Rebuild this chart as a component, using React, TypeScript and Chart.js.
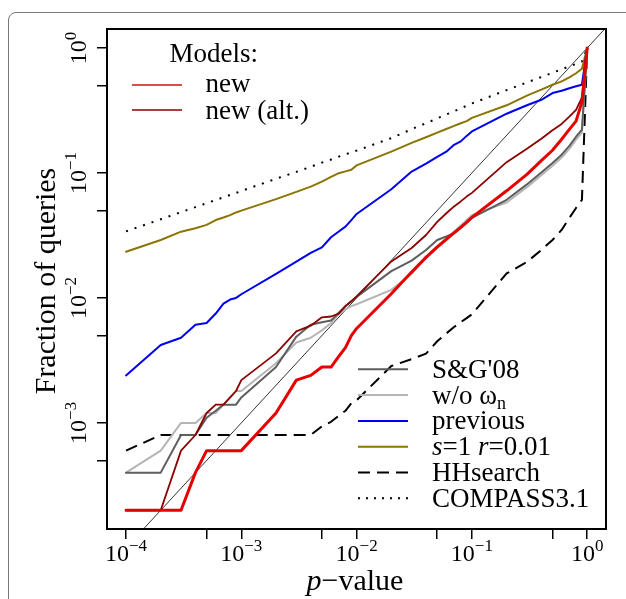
import { useRef, useEffect } from 'react'
import { Chart, registerables } from 'chart.js'
Chart.register(...registerables)

const SERIF = '"Liberation Serif", "Times New Roman", serif'

// p-value grid (1..9 x 10^k)
const P_VALUES = [
  1e-4, 2e-4, 3e-4, 4e-4, 5e-4, 6e-4, 7e-4, 8e-4, 9e-4,
  1e-3, 2e-3, 3e-3, 4e-3, 5e-3, 6e-3, 7e-3, 8e-3, 9e-3,
  1e-2, 2e-2, 3e-2, 4e-2, 5e-2, 6e-2, 7e-2, 8e-2, 9e-2,
  0.1, 0.2, 0.3, 0.4, 0.5, 0.6, 0.7, 0.8, 0.9, 1,
]

const NEW = [
  2e-4, 2e-4, 2e-4, 4e-4, 6e-4, 6e-4, 6e-4, 6e-4, 6e-4,
  6e-4, 1.2e-3, 2.2e-3, 2.4e-3, 2.8e-3, 2.8e-3, 3.4e-3, 4.0e-3, 5.0e-3,
  5.7e-3, 0.0108, 0.0161, 0.0211, 0.0255, 0.0294, 0.0331, 0.0367, 0.0403,
  0.0441, 0.072, 0.0975, 0.1255, 0.152, 0.186, 0.223, 0.26, 0.37, 1,
]
const NEW_ALT = [
  2e-4, 2e-4, 6e-4, 8e-4, 1.2e-3, 1.4e-3, 1.4e-3, 1.6e-3, 1.8e-3,
  2.2e-3, 3.6e-3, 5.4e-3, 6.0e-3, 7.0e-3, 7.1e-3, 7.5e-3, 8.6e-3, 9.4e-3,
  0.0103, 0.0196, 0.0251, 0.0319, 0.0406, 0.0476, 0.054, 0.0592, 0.0647,
  0.0693, 0.122, 0.156, 0.188, 0.22, 0.247, 0.282, 0.32, 0.40, 1,
]
const SG08 = [
  4e-4, 4e-4, 8e-4, 8e-4, 1.1e-3, 1.25e-3, 1.4e-3, 1.4e-3, 1.4e-3,
  1.6e-3, 2.8e-3, 4.9e-3, 6.1e-3, 6.4e-3, 6.6e-3, 7.6e-3, 8.6e-3, 9.4e-3,
  0.0102, 0.0164, 0.0199, 0.0242, 0.0291, 0.031, 0.033, 0.0363, 0.0402,
  0.0437, 0.061, 0.081, 0.101, 0.12, 0.14, 0.165, 0.195, 0.222, 1,
]
const NO_OMEGA = [
  4e-4, 6e-4, 1.0e-3, 1.0e-3, 1.2e-3, 1.2e-3, 1.4e-3, 1.6e-3, 1.8e-3,
  1.8e-3, 3.0e-3, 4.4e-3, 4.8e-3, 5.5e-3, 6.3e-3, 7.4e-3, 8.1e-3, 8.6e-3,
  8.9e-3, 0.0116, 0.0156, 0.0214, 0.026, 0.030, 0.034, 0.038, 0.042,
  0.046, 0.058, 0.077, 0.096, 0.114, 0.133, 0.156, 0.185, 0.21, 1,
]
const PREVIOUS = [
  0.0024, 0.0042, 0.0048, 0.0061, 0.0063, 0.0075, 0.009, 0.0097, 0.0100,
  0.0107, 0.0156, 0.0195, 0.0229, 0.0254, 0.0306, 0.034, 0.0372, 0.042,
  0.047, 0.074, 0.1026, 0.119, 0.1345, 0.148, 0.168, 0.179, 0.198,
  0.215, 0.298, 0.348, 0.385, 0.436, 0.455, 0.476, 0.494, 0.508, 1,
]
const S1_R001 = [
  0.0234, 0.0291, 0.0339, 0.0361, 0.0384, 0.042, 0.044, 0.046, 0.0483,
  0.050, 0.0617, 0.0706, 0.0778, 0.0853, 0.093, 0.0996, 0.103, 0.106,
  0.115, 0.148, 0.174, 0.193, 0.210, 0.225, 0.238, 0.250, 0.26,
  0.276, 0.348, 0.416, 0.464, 0.508, 0.541, 0.583, 0.628, 0.683, 1,
]
const HHSEARCH = [
  6e-4, 8e-4, 8e-4, 8e-4, 8e-4, 8e-4, 8e-4, 8e-4, 8e-4,
  8e-4, 8e-4, 8e-4, 8e-4, 9.4e-4, 1.02e-3, 1.14e-3, 1.25e-3, 1.44e-3,
  1.52e-3, 2.85e-3, 3.24e-3, 3.58e-3, 4.5e-3, 5.2e-3, 5.85e-3, 6.4e-3, 6.9e-3,
  7.4e-3, 0.0157, 0.0194, 0.0242, 0.0291, 0.035, 0.0437, 0.0525, 0.0609, 1,
]
const COMPASS = [
  0.0341, 0.0426, 0.0486, 0.0533, 0.0573, 0.0608, 0.0638, 0.0667, 0.0692,
  0.0718, 0.0898, 0.102, 0.112, 0.121, 0.128, 0.135, 0.141, 0.146,
  0.151, 0.190, 0.224, 0.250, 0.273, 0.294, 0.312, 0.329, 0.345,
  0.360, 0.460, 0.530, 0.586, 0.634, 0.675, 0.712, 0.746, 0.778, 1,
]
const DIAGONAL = [1e-5, 10]

const X_MAJOR = [1e-4, 1e-3, 1e-2, 1e-1, 1]
const X_MINOR = [5e-4, 5e-3, 5e-2, 5e-1]
const Y_MAJOR = [1e-3, 1e-2, 1e-1, 1]
const Y_MINOR = [5e-4, 5e-3, 5e-2, 5e-1]
const X_RANGE = [10 ** -4.165, 10 ** 0.163]
const Y_RANGE = [10 ** -3.849, 10 ** 0.152]

const SERIES = [
  { label: 'new', data: NEW, color: '#e60000', width: 3, dash: [] as number[] },
  { label: 'new (alt.)', data: NEW_ALT, color: '#8b0000', width: 1.8, dash: [] },
  { label: "S&G'08", data: SG08, color: '#5e5e5e', width: 2, dash: [] },
  { label: 'w/o ωn', data: NO_OMEGA, color: '#b5b5b5', width: 2, dash: [] },
  { label: 'previous', data: PREVIOUS, color: '#0000f0', width: 2, dash: [] },
  { label: 's=1 r=0.01', data: S1_R001, color: '#8b7500', width: 2, dash: [] },
  { label: 'HHsearch', data: HHSEARCH, color: '#000', width: 2, dash: [12, 7] },
  { label: 'COMPASS3.1', data: COMPASS, color: '#000', width: 2, dash: [2, 7] },
]

const expText = (v: number) => {
  const e = Math.round(Math.log10(v))
  return e < 0 ? '\u2212' + -e : String(e)
}

const axisDecor = {
  id: 'axisDecor',
  afterDraw(chart: Chart) {
    const { ctx, chartArea: a } = chart
    const x = chart.scales.x, y = chart.scales.y
    const base = `24px ${SERIF}`, sup = `17px ${SERIF}`
    ctx.save()
    ctx.fillStyle = '#000'
    ctx.textAlign = 'left'
    ctx.textBaseline = 'alphabetic'
    const label = (v: number, cx: number, cy: number) => {
      const ex = expText(v)
      ctx.font = base
      const w1 = ctx.measureText('10').width
      ctx.font = sup
      const w2 = ctx.measureText(ex).width
      const x0 = cx - (w1 + w2) / 2
      ctx.font = base
      ctx.fillText('10', x0, cy)
      ctx.font = sup
      ctx.fillText(ex, x0 + w1, cy - 10)
    }
    X_MAJOR.forEach(v => label(v, x.getPixelForValue(v), a.bottom + 32))
    Y_MAJOR.forEach(v => {
      ctx.save()
      ctx.translate(a.left - 21, y.getPixelForValue(v))
      ctx.rotate(-Math.PI / 2)
      label(v, 0, 0)
      ctx.restore()
    })
    ctx.lineWidth = 2
    ctx.strokeStyle = '#000'
    ctx.strokeRect(a.left, a.top, a.right - a.left, a.bottom - a.top)
    ctx.restore()
  },
}

const LEG_TOP = [
  { text: <>new</>, color: '#d01010', dash: '' },
  { text: <>new (alt.)</>, color: '#8b0000', dash: '' },
]
const LEG_BOTTOM = [
  { text: <>S&amp;G'08</>, color: '#5e5e5e', dash: '' },
  { text: <>w/o ω<span style={{ fontSize: 18, verticalAlign: -5 }}>n</span></>, color: '#b5b5b5', dash: '' },
  { text: <>previous</>, color: '#0000f0', dash: '' },
  { text: <><i>s</i>=1 <i>r</i>=0.01</>, color: '#8b7500', dash: '' },
  { text: <>HHsearch</>, color: '#000', dash: '12 7' },
  { text: <>COMPASS3.1</>, color: '#000', dash: '2 6' },
]

const txt = { position: 'absolute' as const, fontSize: 27, lineHeight: '27px', whiteSpace: 'nowrap' as const, color: '#000' }

export default function App() {
  const canvasRef = useRef<HTMLCanvasElement>(null)
  const chartRef = useRef<Chart | null>(null)

  useEffect(() => {
    if (!canvasRef.current) return
    chartRef.current?.destroy()
    const datasets: any[] = SERIES.map(s => ({
      label: s.label,
      data: P_VALUES.map((p, i) => ({ x: p, y: s.data[i] })),
      borderColor: s.color, borderWidth: s.width, borderDash: s.dash,
      borderCapStyle: s.dash.length ? 'butt' : 'round', borderJoinStyle: 'round',
      pointRadius: 0, tension: 0, fill: false,
    }))
    datasets.push({
      label: 'y = x', data: DIAGONAL.map(v => ({ x: v, y: v })),
      borderColor: '#000', borderWidth: 0.8, pointRadius: 0, fill: false,
    })
    chartRef.current = new Chart(canvasRef.current, {
      type: 'line',
      data: { datasets },
      options: {
        responsive: true, maintainAspectRatio: false, animation: false,
        layout: { padding: { left: 97, right: 20, top: 29, bottom: 60 } },
        plugins: { legend: { display: false }, tooltip: { enabled: false } },
        scales: {
          x: {
            type: 'logarithmic', min: X_RANGE[0], max: X_RANGE[1], bounds: 'data',
            afterBuildTicks: (s: any) => { s.ticks = [...X_MAJOR, ...X_MINOR].map(value => ({ value })) },
            ticks: { display: false },
            grid: { drawOnChartArea: false, drawTicks: true, tickLength: 10, color: '#000', lineWidth: 1.5 },
            border: { display: false },
          },
          y: {
            type: 'logarithmic', min: Y_RANGE[0], max: Y_RANGE[1], bounds: 'data',
            afterBuildTicks: (s: any) => { s.ticks = [...Y_MAJOR, ...Y_MINOR].map(value => ({ value })) },
            ticks: { display: false },
            grid: { drawOnChartArea: false, drawTicks: true, tickLength: 10, color: '#000', lineWidth: 1.5 },
            border: { display: false },
          },
        },
      },
      plugins: [axisDecor],
    } as any)
    return () => { chartRef.current?.destroy(); chartRef.current = null }
  }, [])

  return (
    <div style={{ position: 'fixed', left: 0, top: 0, width: 626, height: 599, overflow: 'hidden', background: '#fff', fontFamily: SERIF }}>
      <div style={{ position: 'absolute', left: 8, top: 12, width: 1000, height: 1000, border: '1.3px solid #777', borderRadius: 8 }} />
      <div style={{ position: 'absolute', left: 0, top: 0, width: 626, height: 599 }}>
        <canvas ref={canvasRef} />
      </div>

      <svg width={626} height={599} style={{ position: 'absolute', left: 0, top: 0, pointerEvents: 'none' }}>
        {LEG_TOP.map((l, i) => (
          <line key={i} x1={132} x2={182} y1={85 + 25 * i} y2={85 + 25 * i} stroke={l.color} strokeWidth={1.6} />
        ))}
        {LEG_BOTTOM.map((l, i) => (
          <line key={i} x1={358} x2={408} y1={369.3 + 25.8 * i} y2={369.3 + 25.8 * i}
            stroke={l.color} strokeWidth={2} strokeDasharray={l.dash || undefined} />
        ))}
      </svg>

      <div style={{ ...txt, left: 169.5, top: 40.4 }}>Models:</div>
      {LEG_TOP.map((l, i) => (
        <div key={i} style={{ ...txt, left: 205.5, top: 70.4 + 26.5 * i }}>{l.text}</div>
      ))}
      {LEG_BOTTOM.map((l, i) => (
        <div key={i} style={{ ...txt, left: 432, top: 355.7 + 25.8 * i }}>{l.text}</div>
      ))}

      <div style={{ position: 'absolute', left: 355, top: 565, transform: 'translateX(-50%)', fontSize: 30, lineHeight: '30px', whiteSpace: 'nowrap' }}>
        <i>p</i>−value
      </div>
      <div style={{ position: 'absolute', left: 45, top: 281, transform: 'translate(-50%, -50%) rotate(-90deg)', fontSize: 30, lineHeight: '30px', whiteSpace: 'nowrap' }}>
        Fraction of queries
      </div>
    </div>
  )
}
